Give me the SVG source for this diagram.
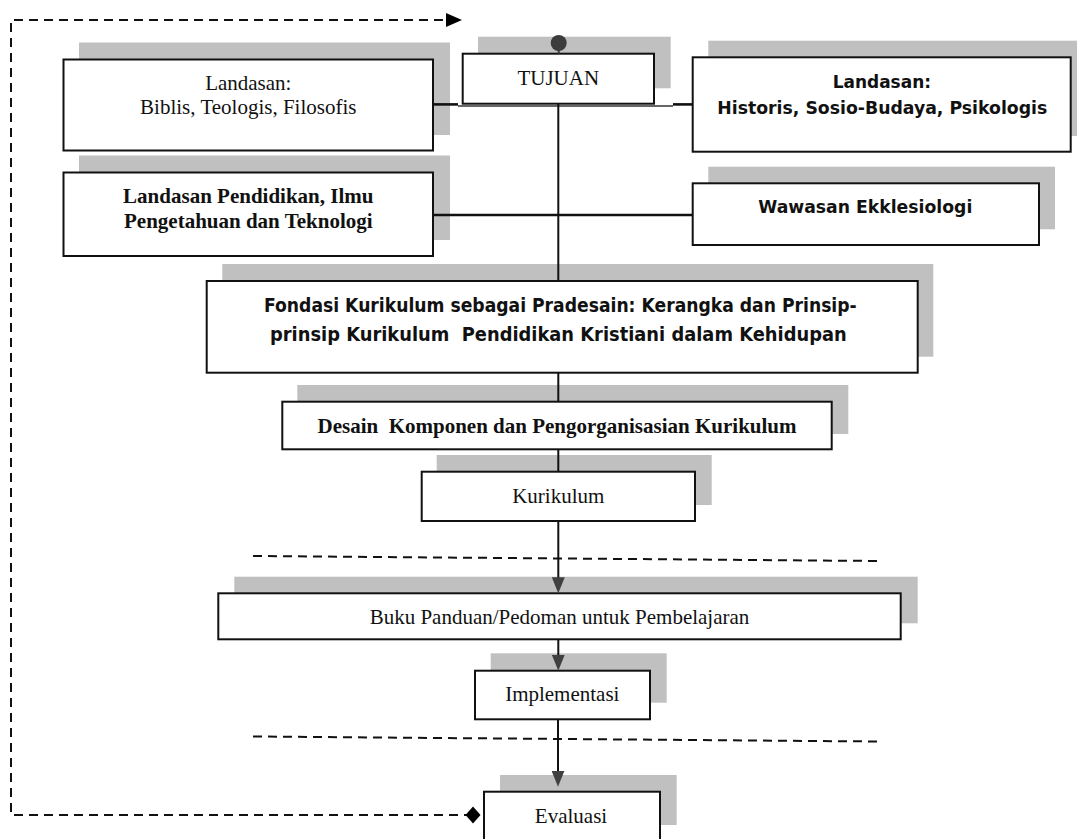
<svg xmlns="http://www.w3.org/2000/svg" width="1077" height="839" viewBox="0 0 1077 839">
<style>
.sh{fill:#c0c0c0;stroke:none}
.bx{fill:#fff;stroke:#111;stroke-width:2}
.tr{font-family:"Liberation Serif","Times New Roman",serif;font-size:21px;fill:#111;text-anchor:middle}
.tb{font-family:"Liberation Serif","Times New Roman",serif;font-size:21px;font-weight:bold;fill:#111;text-anchor:middle;white-space:pre}
.ts{font-family:"DejaVu Sans",Verdana,sans-serif;font-size:18px;font-weight:bold;fill:#111}
.tf{font-family:"DejaVu Sans",Verdana,sans-serif;font-size:19.5px;font-weight:bold;fill:#111;white-space:pre}
.ln{stroke:#111;stroke-width:2;fill:none}
.lt{stroke:#111;stroke-width:2.6;fill:none}
.dash{stroke:#111;stroke-width:2;stroke-dasharray:9 6;fill:none}
</style>
<defs>
<marker id="arrDown" markerUnits="userSpaceOnUse" markerWidth="16" markerHeight="13" refX="12" refY="6.5" orient="auto">
<path d="M0,0 L16,6.5 L0,13 z" fill="#404040"/>
</marker>
<marker id="arrBlack" markerUnits="userSpaceOnUse" markerWidth="16" markerHeight="14" refX="16" refY="7" orient="auto">
<path d="M0,0 L16,7 L0,14 z" fill="#000"/>
</marker>
<marker id="diamond" markerUnits="userSpaceOnUse" markerWidth="16" markerHeight="18" refX="8" refY="9" orient="0">
<path d="M0.5,9 L8,0.5 L15.5,9 L8,17.5 z" fill="#000"/>
</marker>
</defs>

<g id="node-landasan-biblis">
<rect class="sh" x="79" y="42.5" width="371" height="92.5"/>
<rect class="bx" x="63.5" y="59.5" width="369.5" height="91"/>
<text class="tr" x="248.3" y="90">Landasan:</text>
<text class="tr" x="248.3" y="114">Biblis, Teologis, Filosofis</text>
</g>

<g id="node-landasan-pendidikan">
<rect class="sh" x="79" y="155.5" width="371" height="84.5"/>
<rect class="bx" x="63.5" y="172.5" width="369.5" height="83.5"/>
<text class="tb" x="248.3" y="203.3">Landasan Pendidikan, Ilmu</text>
<text class="tb" x="248.3" y="227.7">Pengetahuan dan Teknologi</text>
</g>

<g id="node-tujuan">
<rect class="sh" x="478" y="36.7" width="192.7" height="51.6"/>
<rect class="bx" x="462.7" y="53.7" width="191.3" height="50"/>
<text class="tr" x="558.3" y="85">TUJUAN</text>
</g>

<g id="node-landasan-historis">
<rect class="sh" x="708.3" y="40.7" width="380" height="95.3"/>
<rect class="bx" x="692.7" y="57.3" width="378" height="94.4"/>
<text class="ts" x="832.7" y="88.3" textLength="98.3" lengthAdjust="spacingAndGlyphs">Landasan:</text>
<text class="ts" x="717.3" y="113.7" textLength="330" lengthAdjust="spacingAndGlyphs">Historis, Sosio-Budaya, Psikologis</text>
</g>

<g id="node-wawasan">
<rect class="sh" x="708.3" y="166.7" width="346.7" height="62.6"/>
<rect class="bx" x="692.7" y="183.3" width="346.3" height="61.7"/>
<text class="ts" x="758.3" y="213.3" textLength="214" lengthAdjust="spacingAndGlyphs">Wawasan Ekklesiologi</text>
</g>

<g id="node-fondasi">
<rect class="sh" x="222.3" y="264" width="711" height="92.7"/>
<rect class="bx" x="206.7" y="281" width="711" height="91.7"/>
<text class="tf" x="264" y="311.7" textLength="592.7" lengthAdjust="spacingAndGlyphs">Fondasi Kurikulum sebagai Pradesain: Kerangka dan Prinsip-</text>
<text class="tf" x="270" y="341" textLength="576.7" lengthAdjust="spacingAndGlyphs">prinsip Kurikulum  Pendidikan Kristiani dalam Kehidupan</text>
</g>

<g id="node-desain">
<rect class="sh" x="297.3" y="385" width="551" height="49"/>
<rect class="bx" x="282.3" y="401.7" width="549.4" height="47.6"/>
<text class="tb" x="557" y="432.7">Desain  Komponen dan Pengorganisasian Kurikulum</text>
</g>

<g id="node-kurikulum">
<rect class="sh" x="436.7" y="455" width="275" height="50"/>
<rect class="bx" x="421.7" y="471.7" width="273.3" height="49.3"/>
<text class="tr" x="558.3" y="502.7">Kurikulum</text>
</g>

<g id="node-buku">
<rect class="sh" x="234.3" y="576.7" width="683.4" height="46.6"/>
<rect class="bx" x="218.3" y="593.3" width="682.4" height="46"/>
<text class="tr" x="559.5" y="624">Buku Panduan/Pedoman untuk Pembelajaran</text>
</g>

<g id="node-implementasi">
<rect class="sh" x="490.7" y="653.3" width="176" height="49.4"/>
<rect class="bx" x="475" y="670.7" width="175" height="48.6"/>
<text class="tr" x="562.3" y="701">Implementasi</text>
</g>

<g id="node-evaluasi">
<rect class="sh" x="500" y="775" width="176.7" height="50"/>
<rect class="bx" x="484" y="791.7" width="176" height="60"/>
<text class="tr" x="571" y="822.7">Evaluasi</text>
</g>

<g id="connectors">
<line class="lt" x1="433" y1="104.4" x2="458" y2="104.4"/>
<line x1="458" y1="106" x2="673" y2="106" stroke="#333" stroke-width="1.3"/>
<line class="lt" x1="673" y1="104.4" x2="693" y2="104.4"/>
<line class="lt" x1="433" y1="215" x2="693" y2="215"/>
<line class="ln" x1="558.3" y1="103.7" x2="558.3" y2="281"/>
<line class="ln" x1="558.3" y1="372.7" x2="558.3" y2="401.7"/>
<line class="ln" x1="558.3" y1="449.3" x2="558.3" y2="471.7"/>
<line class="ln" x1="558.3" y1="521" x2="558.3" y2="589.3" marker-end="url(#arrDown)"/>
<line class="ln" x1="558.3" y1="639.3" x2="558.3" y2="666.7" marker-end="url(#arrDown)"/>
<line class="ln" x1="558" y1="719.3" x2="558" y2="782.7" marker-end="url(#arrDown)"/>
<line x1="558.7" y1="45" x2="558.7" y2="53.7" stroke="#3c3c3c" stroke-width="2"/>
<circle cx="558.7" cy="43" r="8" fill="#3c3c3c"/>
<line class="dash" x1="253" y1="556" x2="878" y2="561"/>
<line class="dash" x1="253" y1="736.5" x2="878" y2="741.5"/>
<path class="dash" d="M473,815 L11,815 L11,20 L462,20" marker-start="url(#diamond)" marker-end="url(#arrBlack)"/>
</g>
</svg>
